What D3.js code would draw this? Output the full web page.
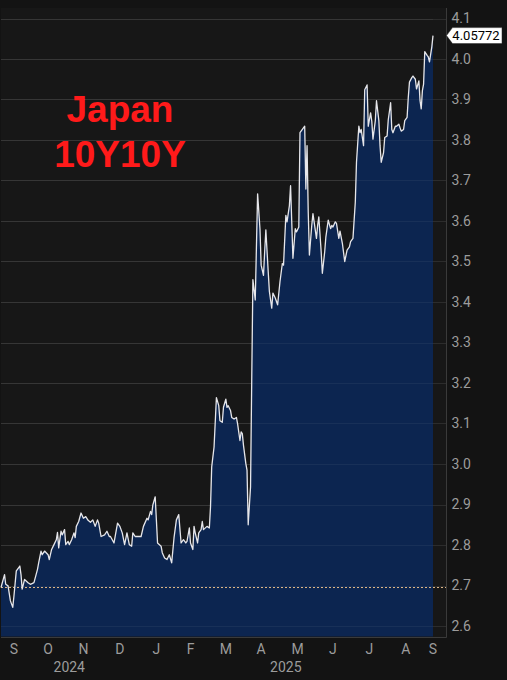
<!DOCTYPE html>
<html><head><meta charset="utf-8">
<script src="https://cdn.jsdelivr.net/npm/d3@7"></script>
<style>
html,body{margin:0;padding:0;background:#131313;}
svg{display:block;}
</style></head>
<body>
<svg id="c" width="507" height="680"></svg>
<script>
const dates = ["2024-09-06","2024-09-09","2024-09-10","2024-09-12","2024-09-14","2024-09-16","2024-09-17","2024-09-19","2024-09-20","2024-09-22","2024-09-23","2024-09-24","2024-09-26","2024-09-29","2024-10-01","2024-10-04","2024-10-07","2024-10-08","2024-10-10","2024-10-11","2024-10-13","2024-10-16","2024-10-17","2024-10-19","2024-10-21","2024-10-23","2024-10-24","2024-10-25","2024-10-27","2024-10-28","2024-10-30","2024-10-31","2024-11-02","2024-11-03","2024-11-05","2024-11-07","2024-11-08","2024-11-09","2024-11-11","2024-11-13","2024-11-15","2024-11-17","2024-11-19","2024-11-21","2024-11-23","2024-11-25","2024-11-27","2024-11-28","2024-11-30","2024-12-03","2024-12-05","2024-12-07","2024-12-08","2024-12-11","2024-12-14","2024-12-16","2024-12-18","2024-12-20","2024-12-22","2024-12-24","2024-12-26","2024-12-27","2024-12-29","2025-01-03","2025-01-05","2025-01-08","2025-01-09","2025-01-11","2025-01-12","2025-01-13","2025-01-15","2025-01-16","2025-01-17","2025-01-20","2025-01-21","2025-01-23","2025-01-25","2025-01-27","2025-01-29","2025-01-31","2025-02-02","2025-02-04","2025-02-06","2025-02-08","2025-02-10","2025-02-11","2025-02-13","2025-02-14","2025-02-16","2025-02-17","2025-02-18","2025-02-20","2025-02-21","2025-02-23","2025-02-24","2025-02-25","2025-02-28","2025-03-02","2025-03-03","2025-03-04","2025-03-06","2025-03-08","2025-03-10","2025-03-11","2025-03-13","2025-03-14","2025-03-16","2025-03-17","2025-03-18","2025-03-20","2025-03-21","2025-03-23","2025-03-25","2025-03-26","2025-03-28","2025-03-29","2025-03-30","2025-03-31","2025-04-02","2025-04-03","2025-04-04","2025-04-06","2025-04-07","2025-04-08","2025-04-10","2025-04-12","2025-04-14","2025-04-15","2025-04-17","2025-04-18","2025-04-19","2025-04-21","2025-04-22","2025-04-24","2025-04-25","2025-04-27","2025-04-29","2025-05-01","2025-05-03","2025-05-04","2025-05-06","2025-05-07","2025-05-09","2025-05-10","2025-05-12","2025-05-14","2025-05-15","2025-05-17","2025-05-18","2025-05-20","2025-05-22","2025-05-23","2025-05-24","2025-05-25","2025-05-26","2025-05-28","2025-05-29","2025-05-30","2025-06-01","2025-06-02","2025-06-03","2025-06-05","2025-06-06","2025-06-08","2025-06-09","2025-06-11","2025-06-13","2025-06-14","2025-06-15","2025-06-17","2025-06-18","2025-06-20","2025-06-21","2025-06-23","2025-06-25","2025-06-27","2025-06-29","2025-06-30","2025-07-02","2025-07-04","2025-07-05","2025-07-07","2025-07-08","2025-07-09","2025-07-11","2025-07-12","2025-07-14","2025-07-15","2025-07-17","2025-07-18","2025-07-19","2025-07-21","2025-07-22","2025-07-24","2025-07-25","2025-07-26","2025-07-28","2025-07-29","2025-07-31","2025-08-01","2025-08-03","2025-08-04","2025-08-05","2025-08-07","2025-08-08","2025-08-10","2025-08-11","2025-08-12","2025-08-14","2025-08-15","2025-08-17","2025-08-18","2025-08-19","2025-08-21","2025-08-22","2025-08-24","2025-08-25","2025-08-27","2025-08-28","2025-08-29","2025-08-30","2025-08-31","2025-09-01","2025-09-03","2025-09-04","2025-09-05","2025-09-07","2025-09-08"];
const values = [2.695,2.727,2.703,2.699,2.662,2.646,2.674,2.736,2.740,2.748,2.727,2.691,2.715,2.707,2.703,2.707,2.740,2.756,2.785,2.776,2.785,2.776,2.764,2.789,2.801,2.813,2.831,2.793,2.834,2.825,2.838,2.801,2.809,2.801,2.813,2.830,2.818,2.846,2.858,2.879,2.866,2.870,2.861,2.856,2.862,2.846,2.862,2.854,2.821,2.825,2.834,2.821,2.821,2.805,2.854,2.846,2.830,2.801,2.830,2.801,2.797,2.830,2.821,2.821,2.846,2.866,2.862,2.883,2.875,2.899,2.919,2.862,2.805,2.797,2.781,2.768,2.764,2.776,2.756,2.818,2.862,2.875,2.805,2.813,2.805,2.809,2.842,2.805,2.789,2.846,2.830,2.805,2.830,2.838,2.858,2.838,2.846,2.842,2.895,2.993,3.042,3.164,3.144,3.107,3.103,3.140,3.160,3.140,3.144,3.132,3.115,3.111,3.115,3.099,3.058,3.079,3.075,3.046,3.001,2.985,2.850,2.944,3.205,3.455,3.405,3.667,3.581,3.491,3.466,3.524,3.578,3.475,3.426,3.385,3.422,3.410,3.393,3.450,3.495,3.491,3.614,3.598,3.638,3.687,3.508,3.581,3.573,3.585,3.818,3.826,3.834,3.679,3.786,3.622,3.516,3.589,3.618,3.598,3.557,3.589,3.610,3.524,3.471,3.524,3.561,3.602,3.581,3.589,3.585,3.598,3.594,3.557,3.575,3.545,3.500,3.528,3.536,3.549,3.557,3.647,3.745,3.834,3.818,3.826,3.786,3.924,3.936,3.834,3.867,3.846,3.802,3.848,3.897,3.848,3.786,3.745,3.769,3.806,3.810,3.850,3.892,3.826,3.818,3.834,3.834,3.839,3.830,3.822,3.826,3.848,3.856,3.905,3.943,3.954,3.958,3.950,3.926,3.946,3.897,3.877,3.922,3.938,4.018,4.009,4.005,3.993,4.030,4.05772];
const yTicks = [2.6,2.7,2.8,2.9,3.0,3.1,3.2,3.3,3.4,3.5,3.6,3.7,3.8,3.9,4.0,4.1];
const monthLabels = ["S","O","N","D","J","F","M","A","M","J","J","A","S"];
const monthDates = ["2024-09-15","2024-10-16","2024-11-15","2024-12-16","2025-01-16","2025-02-14","2025-03-16","2025-04-15","2025-05-16","2025-06-15","2025-07-16","2025-08-16","2025-09-15"];
const yearLabels = ["2024","2025"];
const yearDates = ["2024-11-03","2025-05-06"];
const refValue = 2.695;
const titleLines = ["Japan","10Y10Y"];
const lastLabel = "4.05772";

const parse = d3.timeParse("%Y-%m-%d");
const data = dates.map((d,i)=>({date:parse(d), v:values[i]}));
const svg = d3.select("#c");
const W=507,H=680;
svg.append("rect").attr("width",W).attr("height",H).attr("fill","#131313");

const plotL=1, plotR=446.5, plotT=8, plotB=637.5;
const x = d3.scaleTime().domain([parse("2024-09-06"), parse("2025-09-08")]).range([1,433]);
const y = d3.scaleLinear().domain([2.6,4.1]).range([626,18.5]);

// plot panel
svg.append("rect").attr("x",plotL).attr("y",plotT).attr("width",plotR-plotL).attr("height",plotB-plotT).attr("fill","#171717");

// grid
svg.append("g").selectAll("line").data(yTicks).join("line")
  .attr("x1",plotL).attr("x2",plotR)
  .attr("y1",d=>Math.round(y(d))+0.5).attr("y2",d=>Math.round(y(d))+0.5)
  .attr("stroke","#2c2c2c").attr("stroke-width",1);

// area
const area = d3.area().x(d=>x(d.date)).y0(plotB-1).y1(d=>y(d.v)).curve(d3.curveLinear);
svg.append("path").datum(data).attr("d",area).attr("fill","#0c2550");
// faint grid over area
svg.append("g").selectAll("line").data(yTicks).join("line")
  .attr("x1",plotL).attr("x2",433)
  .attr("y1",d=>Math.round(y(d))+0.5).attr("y2",d=>Math.round(y(d))+0.5)
  .attr("stroke","#ffffff").attr("stroke-opacity",0.05).attr("stroke-width",1);

// ref line
svg.append("line").attr("x1",plotL).attr("x2",plotR)
  .attr("y1",y(refValue)).attr("y2",y(refValue))
  .attr("stroke","#e0b888").attr("stroke-width",1).attr("stroke-dasharray","2,2");

// line
const line = d3.line().x(d=>x(d.date)).y(d=>y(d.v));
svg.append("path").datum(data).attr("d",line).attr("fill","none")
  .attr("stroke","#e6e6ea").attr("stroke-width",1.3).attr("stroke-linejoin","round");

// frame
svg.append("path").attr("d",`M${plotL},${plotB}H${plotR}V${plotT}`)
  .attr("fill","none").attr("stroke","#3a3a3a").attr("stroke-width",1);

// y axis labels
const yAxis = d3.axisRight(y).tickValues(yTicks).tickFormat(d3.format(".1f")).tickSize(0).tickPadding(5);
const ga = svg.append("g").attr("transform",`translate(${plotR},0)`).call(yAxis);
ga.select(".domain").remove();
ga.selectAll("text").attr("fill","#9c9c9c").attr("font-family","Roboto, 'Liberation Sans', sans-serif").attr("font-size","14px");

// month labels
const xEnd = x(data[data.length-1].date);
svg.append("g").selectAll("text").data(monthLabels).join("text")
  .attr("x",(d,i)=>Math.max(14, Math.min(xEnd, x(parse(monthDates[i])))))
  .attr("y",654).attr("text-anchor","middle")
  .attr("fill","#9c9c9c").attr("font-family","Roboto, 'Liberation Sans', sans-serif").attr("font-size","14px")
  .text(d=>d);
svg.append("g").selectAll("text").data(yearLabels).join("text")
  .attr("x",(d,i)=>x(parse(yearDates[i])))
  .attr("y",672).attr("text-anchor","middle")
  .attr("fill","#9c9c9c").attr("font-family","Roboto, 'Liberation Sans', sans-serif").attr("font-size","14px")
  .text(d=>d);

// last value tag
const ly = y(values[values.length-1]);
const tg = svg.append("g");
tg.append("path").attr("d",`M${plotR},${ly} L${plotR+6},${ly-8} H${502} V${ly+8} H${plotR+6} Z`)
  .attr("fill","#ffffff").attr("stroke","#222").attr("stroke-width",0.5);
tg.append("text").attr("x",476).attr("y",ly+4.5).attr("text-anchor","middle")
  .attr("font-family","Roboto, 'Liberation Sans', sans-serif").attr("font-size","13px").attr("fill","#000")
  .text(lastLabel);

// title
svg.append("g").selectAll("text").data(titleLines).join("text")
  .attr("x",120).attr("y",(d,i)=>122+i*44.5).attr("text-anchor","middle")
  .attr("fill","#ff1a1a").attr("font-family","'Liberation Sans', Arial, sans-serif")
  .attr("font-weight","bold").attr("font-size","37px").text(d=>d);
</script>
</body></html>
